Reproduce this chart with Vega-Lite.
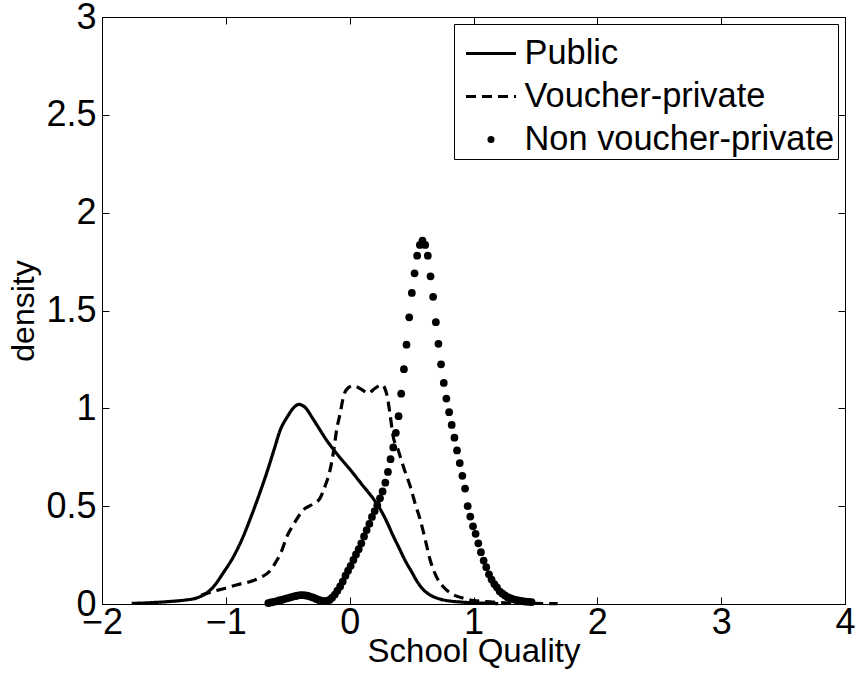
{
  "$schema": "https://vega.github.io/schema/vega-lite/v6.json",
  "width": 743,
  "height": 587,
  "autosize": {"type": "none"},
  "padding": {"left": 102, "top": 17, "right": 12, "bottom": 82},
  "background": "white",
  "config": {
    "font": "Liberation Sans",
    "view": {"stroke": "black", "strokeWidth": 1},
    "axis": {
      "grid": false,
      "domainColor": "black",
      "tickColor": "black",
      "labelColor": "black",
      "titleColor": "black",
      "labelFont": "Liberation Sans",
      "titleFont": "Liberation Sans",
      "labelFontSize": 36,
      "titleFontSize": 33,
      "titleFontWeight": "normal",
      "tickSize": -7,
      "tickWidth": 1,
      "labelFlush": false
    }
  },
  "data": {
    "values": [
      {"series": "Public", "x": -1.76, "y": 0.003},
      {"series": "Public", "x": -1.6, "y": 0.007},
      {"series": "Public", "x": -1.45, "y": 0.013},
      {"series": "Public", "x": -1.33, "y": 0.02},
      {"series": "Public", "x": -1.24, "y": 0.03},
      {"series": "Public", "x": -1.17, "y": 0.05},
      {"series": "Public", "x": -1.1, "y": 0.088},
      {"series": "Public", "x": -1.02, "y": 0.16},
      {"series": "Public", "x": -0.94, "y": 0.24},
      {"series": "Public", "x": -0.87, "y": 0.33},
      {"series": "Public", "x": -0.8, "y": 0.44},
      {"series": "Public", "x": -0.73, "y": 0.56},
      {"series": "Public", "x": -0.67, "y": 0.67},
      {"series": "Public", "x": -0.61, "y": 0.79},
      {"series": "Public", "x": -0.56, "y": 0.89},
      {"series": "Public", "x": -0.5, "y": 0.96},
      {"series": "Public", "x": -0.45, "y": 1.005},
      {"series": "Public", "x": -0.41, "y": 1.02},
      {"series": "Public", "x": -0.36, "y": 1.005},
      {"series": "Public", "x": -0.3, "y": 0.95},
      {"series": "Public", "x": -0.25, "y": 0.9},
      {"series": "Public", "x": -0.2, "y": 0.85},
      {"series": "Public", "x": -0.1, "y": 0.765},
      {"series": "Public", "x": 0.0, "y": 0.69},
      {"series": "Public", "x": 0.1, "y": 0.61},
      {"series": "Public", "x": 0.2, "y": 0.53},
      {"series": "Public", "x": 0.26, "y": 0.47},
      {"series": "Public", "x": 0.3, "y": 0.42},
      {"series": "Public", "x": 0.35, "y": 0.35},
      {"series": "Public", "x": 0.4, "y": 0.285},
      {"series": "Public", "x": 0.45, "y": 0.22},
      {"series": "Public", "x": 0.5, "y": 0.165},
      {"series": "Public", "x": 0.55, "y": 0.11},
      {"series": "Public", "x": 0.6, "y": 0.07},
      {"series": "Public", "x": 0.65, "y": 0.046},
      {"series": "Public", "x": 0.72, "y": 0.027},
      {"series": "Public", "x": 0.8, "y": 0.016},
      {"series": "Public", "x": 0.9, "y": 0.01},
      {"series": "Public", "x": 1.0, "y": 0.006},
      {"series": "Public", "x": 1.1, "y": 0.004},
      {"series": "Public", "x": 1.2, "y": 0.002},
      {"series": "Voucher-private", "x": -1.2, "y": 0.045},
      {"series": "Voucher-private", "x": -1.1, "y": 0.065},
      {"series": "Voucher-private", "x": -1.02, "y": 0.078},
      {"series": "Voucher-private", "x": -0.9, "y": 0.1},
      {"series": "Voucher-private", "x": -0.8, "y": 0.115},
      {"series": "Voucher-private", "x": -0.72, "y": 0.135},
      {"series": "Voucher-private", "x": -0.65, "y": 0.165},
      {"series": "Voucher-private", "x": -0.6, "y": 0.21},
      {"series": "Voucher-private", "x": -0.55, "y": 0.27},
      {"series": "Voucher-private", "x": -0.51, "y": 0.34},
      {"series": "Voucher-private", "x": -0.45, "y": 0.41},
      {"series": "Voucher-private", "x": -0.4, "y": 0.46},
      {"series": "Voucher-private", "x": -0.375, "y": 0.48},
      {"series": "Voucher-private", "x": -0.3, "y": 0.51},
      {"series": "Voucher-private", "x": -0.24, "y": 0.54},
      {"series": "Voucher-private", "x": -0.2, "y": 0.6},
      {"series": "Voucher-private", "x": -0.16, "y": 0.68},
      {"series": "Voucher-private", "x": -0.13, "y": 0.78},
      {"series": "Voucher-private", "x": -0.105, "y": 0.89},
      {"series": "Voucher-private", "x": -0.075, "y": 0.98},
      {"series": "Voucher-private", "x": -0.05, "y": 1.06},
      {"series": "Voucher-private", "x": -0.02, "y": 1.1},
      {"series": "Voucher-private", "x": 0.03, "y": 1.115},
      {"series": "Voucher-private", "x": 0.1, "y": 1.095},
      {"series": "Voucher-private", "x": 0.15, "y": 1.077},
      {"series": "Voucher-private", "x": 0.2, "y": 1.1},
      {"series": "Voucher-private", "x": 0.26, "y": 1.12},
      {"series": "Voucher-private", "x": 0.3, "y": 1.07},
      {"series": "Voucher-private", "x": 0.325, "y": 0.975},
      {"series": "Voucher-private", "x": 0.35, "y": 0.86},
      {"series": "Voucher-private", "x": 0.39, "y": 0.79},
      {"series": "Voucher-private", "x": 0.44, "y": 0.69},
      {"series": "Voucher-private", "x": 0.49, "y": 0.6},
      {"series": "Voucher-private", "x": 0.53, "y": 0.51},
      {"series": "Voucher-private", "x": 0.57, "y": 0.43},
      {"series": "Voucher-private", "x": 0.61, "y": 0.33},
      {"series": "Voucher-private", "x": 0.65, "y": 0.225},
      {"series": "Voucher-private", "x": 0.7, "y": 0.14},
      {"series": "Voucher-private", "x": 0.756, "y": 0.088},
      {"series": "Voucher-private", "x": 0.83, "y": 0.05},
      {"series": "Voucher-private", "x": 0.92, "y": 0.029},
      {"series": "Voucher-private", "x": 1.0, "y": 0.018},
      {"series": "Voucher-private", "x": 1.1, "y": 0.012},
      {"series": "Voucher-private", "x": 1.2, "y": 0.008},
      {"series": "Voucher-private", "x": 1.35, "y": 0.005},
      {"series": "Voucher-private", "x": 1.5, "y": 0.003},
      {"series": "Voucher-private", "x": 1.68, "y": 0.002},
      {"series": "Non voucher-private", "x": -0.657, "y": 0.005},
      {"series": "Non voucher-private", "x": -0.636, "y": 0.008},
      {"series": "Non voucher-private", "x": -0.614, "y": 0.011},
      {"series": "Non voucher-private", "x": -0.593, "y": 0.014},
      {"series": "Non voucher-private", "x": -0.571, "y": 0.018},
      {"series": "Non voucher-private", "x": -0.55, "y": 0.021},
      {"series": "Non voucher-private", "x": -0.528, "y": 0.025},
      {"series": "Non voucher-private", "x": -0.507, "y": 0.029},
      {"series": "Non voucher-private", "x": -0.485, "y": 0.033},
      {"series": "Non voucher-private", "x": -0.464, "y": 0.037},
      {"series": "Non voucher-private", "x": -0.442, "y": 0.04},
      {"series": "Non voucher-private", "x": -0.421, "y": 0.043},
      {"series": "Non voucher-private", "x": -0.399, "y": 0.045},
      {"series": "Non voucher-private", "x": -0.378, "y": 0.045},
      {"series": "Non voucher-private", "x": -0.356, "y": 0.044},
      {"series": "Non voucher-private", "x": -0.335, "y": 0.041},
      {"series": "Non voucher-private", "x": -0.313, "y": 0.037},
      {"series": "Non voucher-private", "x": -0.292, "y": 0.032},
      {"series": "Non voucher-private", "x": -0.27, "y": 0.026},
      {"series": "Non voucher-private", "x": -0.249, "y": 0.021},
      {"series": "Non voucher-private", "x": -0.227, "y": 0.017},
      {"series": "Non voucher-private", "x": -0.206, "y": 0.015},
      {"series": "Non voucher-private", "x": -0.185, "y": 0.016},
      {"series": "Non voucher-private", "x": -0.163, "y": 0.021},
      {"series": "Non voucher-private", "x": -0.142, "y": 0.032},
      {"series": "Non voucher-private", "x": -0.12, "y": 0.048},
      {"series": "Non voucher-private", "x": -0.099, "y": 0.068},
      {"series": "Non voucher-private", "x": -0.077, "y": 0.09},
      {"series": "Non voucher-private", "x": -0.056, "y": 0.115},
      {"series": "Non voucher-private", "x": -0.034, "y": 0.145},
      {"series": "Non voucher-private", "x": -0.013, "y": 0.17},
      {"series": "Non voucher-private", "x": 0.008, "y": 0.195},
      {"series": "Non voucher-private", "x": 0.03, "y": 0.225},
      {"series": "Non voucher-private", "x": 0.051, "y": 0.253},
      {"series": "Non voucher-private", "x": 0.073, "y": 0.28},
      {"series": "Non voucher-private", "x": 0.094, "y": 0.31},
      {"series": "Non voucher-private", "x": 0.116, "y": 0.345},
      {"series": "Non voucher-private", "x": 0.137, "y": 0.378},
      {"series": "Non voucher-private", "x": 0.159, "y": 0.41},
      {"series": "Non voucher-private", "x": 0.18, "y": 0.445},
      {"series": "Non voucher-private", "x": 0.202, "y": 0.475},
      {"series": "Non voucher-private", "x": 0.223, "y": 0.505},
      {"series": "Non voucher-private", "x": 0.245, "y": 0.54},
      {"series": "Non voucher-private", "x": 0.266, "y": 0.575},
      {"series": "Non voucher-private", "x": 0.288, "y": 0.62},
      {"series": "Non voucher-private", "x": 0.309, "y": 0.675},
      {"series": "Non voucher-private", "x": 0.33, "y": 0.74},
      {"series": "Non voucher-private", "x": 0.352, "y": 0.8},
      {"series": "Non voucher-private", "x": 0.373, "y": 0.875},
      {"series": "Non voucher-private", "x": 0.395, "y": 0.96},
      {"series": "Non voucher-private", "x": 0.416, "y": 1.075},
      {"series": "Non voucher-private", "x": 0.438, "y": 1.2},
      {"series": "Non voucher-private", "x": 0.459, "y": 1.325},
      {"series": "Non voucher-private", "x": 0.481, "y": 1.465},
      {"series": "Non voucher-private", "x": 0.502, "y": 1.59},
      {"series": "Non voucher-private", "x": 0.524, "y": 1.69},
      {"series": "Non voucher-private", "x": 0.545, "y": 1.78},
      {"series": "Non voucher-private", "x": 0.567, "y": 1.835},
      {"series": "Non voucher-private", "x": 0.588, "y": 1.857},
      {"series": "Non voucher-private", "x": 0.61, "y": 1.835},
      {"series": "Non voucher-private", "x": 0.631, "y": 1.78},
      {"series": "Non voucher-private", "x": 0.653, "y": 1.675},
      {"series": "Non voucher-private", "x": 0.674, "y": 1.57},
      {"series": "Non voucher-private", "x": 0.696, "y": 1.44},
      {"series": "Non voucher-private", "x": 0.717, "y": 1.33},
      {"series": "Non voucher-private", "x": 0.738, "y": 1.225},
      {"series": "Non voucher-private", "x": 0.76, "y": 1.13},
      {"series": "Non voucher-private", "x": 0.781, "y": 1.05},
      {"series": "Non voucher-private", "x": 0.803, "y": 0.98},
      {"series": "Non voucher-private", "x": 0.824, "y": 0.915},
      {"series": "Non voucher-private", "x": 0.846, "y": 0.85},
      {"series": "Non voucher-private", "x": 0.867, "y": 0.785},
      {"series": "Non voucher-private", "x": 0.889, "y": 0.72},
      {"series": "Non voucher-private", "x": 0.91, "y": 0.655},
      {"series": "Non voucher-private", "x": 0.932, "y": 0.59},
      {"series": "Non voucher-private", "x": 0.953, "y": 0.5},
      {"series": "Non voucher-private", "x": 0.974, "y": 0.447},
      {"series": "Non voucher-private", "x": 0.996, "y": 0.397},
      {"series": "Non voucher-private", "x": 1.017, "y": 0.359},
      {"series": "Non voucher-private", "x": 1.039, "y": 0.31},
      {"series": "Non voucher-private", "x": 1.06, "y": 0.265},
      {"series": "Non voucher-private", "x": 1.082, "y": 0.222},
      {"series": "Non voucher-private", "x": 1.103, "y": 0.188},
      {"series": "Non voucher-private", "x": 1.125, "y": 0.152},
      {"series": "Non voucher-private", "x": 1.146, "y": 0.125},
      {"series": "Non voucher-private", "x": 1.168, "y": 0.102},
      {"series": "Non voucher-private", "x": 1.189, "y": 0.085},
      {"series": "Non voucher-private", "x": 1.211, "y": 0.065},
      {"series": "Non voucher-private", "x": 1.232, "y": 0.054},
      {"series": "Non voucher-private", "x": 1.254, "y": 0.044},
      {"series": "Non voucher-private", "x": 1.275, "y": 0.035},
      {"series": "Non voucher-private", "x": 1.297, "y": 0.03},
      {"series": "Non voucher-private", "x": 1.318, "y": 0.025},
      {"series": "Non voucher-private", "x": 1.34, "y": 0.021},
      {"series": "Non voucher-private", "x": 1.361, "y": 0.019},
      {"series": "Non voucher-private", "x": 1.383, "y": 0.016},
      {"series": "Non voucher-private", "x": 1.404, "y": 0.014},
      {"series": "Non voucher-private", "x": 1.426, "y": 0.012},
      {"series": "Non voucher-private", "x": 1.447, "y": 0.011},
      {"series": "Non voucher-private", "x": 1.469, "y": 0.01}
    ]
  },
  "resolve": {"axis": {"x": "independent", "y": "independent"}},
  "layer": [
    {
      "transform": [{"filter": "datum.series !== 'Non voucher-private'"}],
      "mark": {"type": "line", "color": "black", "strokeWidth": 3.2, "interpolate": "monotone"},
      "encoding": {
        "x": {
          "field": "x", "type": "quantitative",
          "scale": {"domain": [-2, 4], "nice": false, "zero": false},
          "axis": {"title": "School Quality", "values": [-2, -1, 0, 1, 2, 3, 4], "format": "~g", "labelPadding": 8, "titlePadding": -5}
        },
        "y": {
          "field": "y", "type": "quantitative",
          "scale": {"domain": [0, 3], "nice": false},
          "axis": {"title": "density", "values": [0, 0.5, 1, 1.5, 2, 2.5, 3], "format": "~g", "labelPadding": 13, "titlePadding": 5, "titleFontSize": 32}
        },
        "detail": {"field": "series"},
        "strokeDash": {
          "field": "series", "type": "nominal",
          "scale": {"domain": ["Public", "Voucher-private", "Non voucher-private"], "range": [[1, 0], [10, 6], [1, 0]]},
          "legend": {
            "title": null,
            "orient": "top-right",
            "offset": 7,
            "strokeColor": "black",
            "fillColor": "white",
            "padding": 3,
            "labelFont": "Liberation Sans",
            "labelFontSize": 34.4,
            "labelColor": "black",
            "labelOffset": 7,
            "symbolOffset": 7.5,
            "labelLimit": 400,
            "symbolSize": 2500,
            "symbolType": "stroke",
            "symbolStrokeColor": "black",
            "symbolStrokeWidth": 3,
            "rowPadding": -1.5,
            "encode": {
              "symbols": {
                "update": {
                  "shape": {"signal": "datum.value === 'Non voucher-private' ? 'circle' : 'stroke'"},
                  "size": {"signal": "datum.value === 'Non voucher-private' ? 50 : 2500"},
                  "fill": {"signal": "datum.value === 'Non voucher-private' ? 'black' : 'transparent'"},
                  "stroke": {"signal": "datum.value === 'Non voucher-private' ? 'transparent' : 'black'"},
                  "strokeOpacity": {"value": 1},
                  "strokeWidth": {"value": 3}
                }
              }
            }
          }
        }
      }
    },
    {
      "transform": [{"filter": "datum.series === 'Non voucher-private'"}],
      "mark": {"type": "point", "filled": true, "color": "black", "size": 60, "opacity": 1},
      "encoding": {
        "x": {"field": "x", "type": "quantitative", "axis": {"orient": "top", "labels": false, "title": null, "values": [-2, -1, 0, 1, 2, 3, 4]}},
        "y": {"field": "y", "type": "quantitative", "axis": {"orient": "right", "labels": false, "title": null, "values": [0, 0.5, 1, 1.5, 2, 2.5, 3]}}
      }
    }
  ]
}
